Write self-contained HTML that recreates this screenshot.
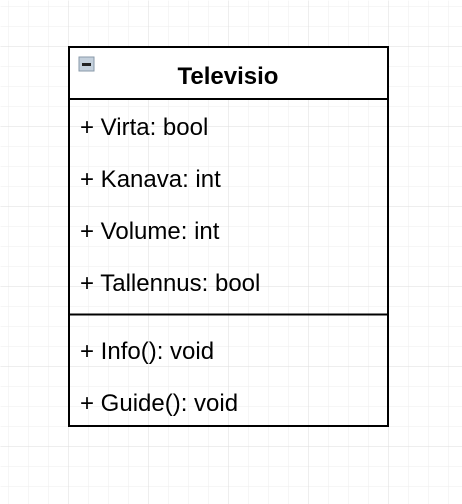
<!DOCTYPE html>
<html><head><style>
html,body{margin:0;padding:0;background:#fff;}
svg{display:block}
text{font-family:"Liberation Sans",Arial,sans-serif;fill:#000}
</style></head><body>
<svg width="462" height="504" viewBox="0 0 462 504" xmlns="http://www.w3.org/2000/svg">
<defs>
<pattern id="minor" x="8" y="6" width="20" height="20" patternUnits="userSpaceOnUse">
<path d="M0 0H20M0 0V20" stroke="#eeeeee" stroke-width="1" fill="none"/>
</pattern>
<pattern id="major" x="68" y="46" width="80" height="80" patternUnits="userSpaceOnUse">
<path d="M0 0H80M0 0V80" stroke="#dddddd" stroke-width="1" fill="none"/>
</pattern>
</defs>
<rect width="462" height="504" fill="url(#minor)" transform="translate(0.5,0.5)"/>
<rect width="462" height="504" fill="url(#major)" transform="translate(0.5,0.5)"/>
<rect x="69" y="47" width="319" height="52" fill="#fff"/>
<rect x="69" y="47" width="319" height="379" fill="none" stroke="#000" stroke-width="2"/>
<line x1="69" y1="99" x2="388" y2="99" stroke="#000" stroke-width="2"/>
<line x1="69" y1="314.5" x2="388" y2="314.5" stroke="#000" stroke-width="2"/>
<rect x="79" y="57" width="15" height="14" fill="#c4d0dc" stroke="#8a9aaa" stroke-width="1"/>
<rect x="82" y="63" width="9" height="3" fill="#222"/>
<text x="228" y="84" font-size="24" font-weight="bold" text-anchor="middle">Televisio</text>
<g font-size="24">
<text x="80" y="135">+ Virta: bool</text>
<text x="80" y="187">+ Kanava: int</text>
<text x="80" y="239">+ Volume: int</text>
<text x="80" y="291">+ Tallennus: bool</text>
<text x="80" y="359">+ Info(): void</text>
<text x="80" y="411">+ Guide(): void</text>
</g>
</svg>
</body></html>
